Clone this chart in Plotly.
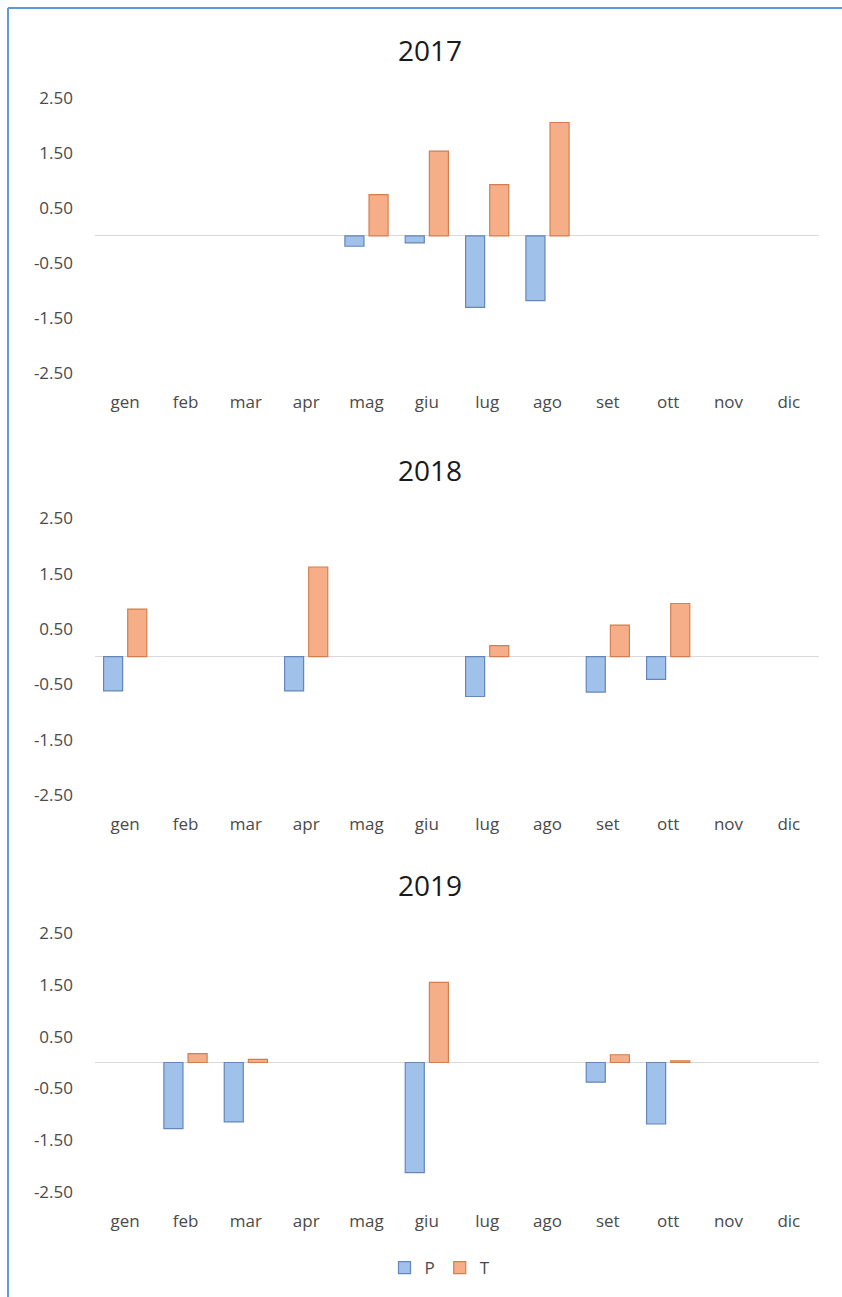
import plotly.graph_objects as go
from plotly.subplots import make_subplots

months = ["gen", "feb", "mar", "apr", "mag", "giu", "lug", "ago", "set", "ott", "nov", "dic"]
years = ["2017", "2018", "2019"]

P_2017 = [None, None, None, None, -0.19, -0.13, -1.30, -1.18, None, None, None, None]
T_2017 = [None, None, None, None, 0.75, 1.54, 0.93, 2.06, None, None, None, None]

P_2018 = [-0.62, None, None, -0.62, None, None, -0.72, None, -0.64, -0.41, None, None]
T_2018 = [0.86, None, None, 1.62, None, None, 0.20, None, 0.57, 0.96, None, None]

P_2019 = [None, -1.28, -1.15, None, None, -2.13, None, None, -0.38, -1.19, None, None]
T_2019 = [None, 0.17, 0.06, None, None, 1.55, None, None, 0.15, 0.03, None, None]

y_ticks = [2.5, 1.5, 0.5, -0.5, -1.5, -2.5]
y_ticktext = [f"{v:.2f}" for v in y_ticks]  # plain hyphen minus, as in the original

P_series = [P_2017, P_2018, P_2019]
T_series = [T_2017, T_2018, T_2019]

W, H = 842, 1297
FONT = "Open Sans"
TXT = "#4A4A4A"
P_FILL, P_LINE = "#A0C1E9", "#6586B8"
T_FILL, T_LINE = "#F5AE87", "#D47E4F"

fig = make_subplots(rows=3, cols=1)

for i in range(3):
    fig.add_trace(go.Bar(x=months, y=P_series[i], name="P", legendgroup="P",
                         showlegend=(i == 0),
                         marker=dict(color=P_FILL, line=dict(color=P_LINE, width=1.2))),
                  row=i + 1, col=1)
    fig.add_trace(go.Bar(x=months, y=T_series[i], name="T", legendgroup="T",
                         showlegend=(i == 0),
                         marker=dict(color=T_FILL, line=dict(color=T_LINE, width=1.2))),
                  row=i + 1, col=1)

# pixel layout (top, bottom) of each plot area
areas = [(98.3, 373.3), (518.3, 795.0), (933.3, 1191.7)]
title_y = [50, 470, 885]
x_dom = [95 / W, 819 / W]

for i, (top, bot) in enumerate(areas):
    xa = "xaxis" if i == 0 else f"xaxis{i + 1}"
    ya = "yaxis" if i == 0 else f"yaxis{i + 1}"
    fig.layout[xa].update(domain=x_dom, showgrid=False, showline=False, zeroline=False,
                          ticks="", ticklabelstandoff=17, automargin=False,
                          tickfont=dict(family=FONT, size=17, color=TXT))
    fig.layout[ya].update(domain=[1 - bot / H, 1 - top / H], range=[-2.5, 2.5],
                          tickvals=y_ticks, ticktext=y_ticktext, showgrid=False,
                          showline=False, zeroline=True, zerolinecolor="#D9D9D9",
                          zerolinewidth=1, ticks="", ticklabelstandoff=21, automargin=False,
                          tickfont=dict(family=FONT, size=17, color=TXT))
    fig.add_annotation(text=years[i], xref="paper", yref="paper", x=430 / W,
                       y=1 - title_y[i] / H, showarrow=False, xanchor="center",
                       yanchor="middle", font=dict(family=FONT, size=28, color="#1A1A1A"))

# outer frame (left and top edges visible)
fig.add_shape(type="line", xref="paper", yref="paper", x0=8 / W, x1=8 / W,
              y0=0, y1=1 - 8 / H, line=dict(color="#5B9BD5", width=2))
fig.add_shape(type="line", xref="paper", yref="paper", x0=8 / W, x1=1,
              y0=1 - 8 / H, y1=1 - 8 / H, line=dict(color="#5B9BD5", width=2))

fig.update_layout(
    width=W, height=H,
    margin=dict(l=0, r=0, t=0, b=0, pad=0, autoexpand=False),
    paper_bgcolor="white", plot_bgcolor="white",
    barmode="group", bargap=0.2, bargroupgap=0.21,
    showlegend=True,
    legend=dict(orientation="h", x=440 / W, xanchor="center", y=1 - 1268 / H,
                yanchor="middle", font=dict(family=FONT, size=17, color=TXT),
                itemwidth=30, traceorder="normal"),
)

fig.write_html("out.html", config={"displayModeBar": False},
               post_script="document.body.style.margin='0';")
